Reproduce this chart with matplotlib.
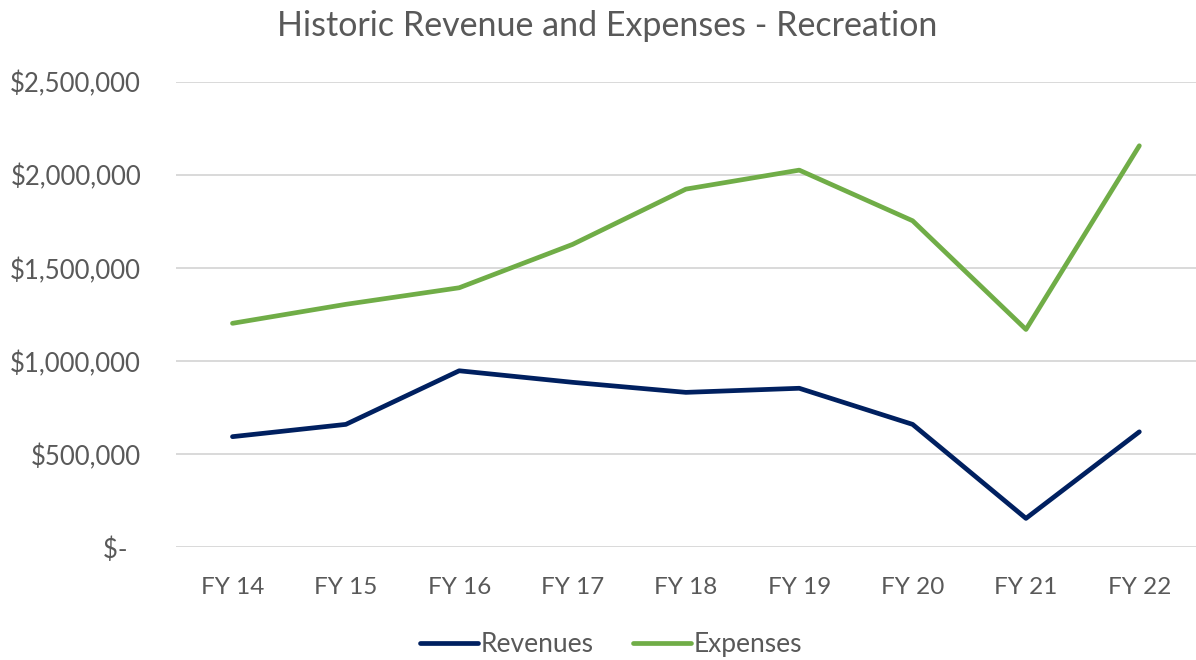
import matplotlib.pyplot as plt
from matplotlib.ticker import FuncFormatter

plt.rcParams["font.family"] = ["Lato", "DejaVu Sans"]

years = ["FY 14", "FY 15", "FY 16", "FY 17", "FY 18", "FY 19", "FY 20", "FY 21", "FY 22"]
revenues = [595000, 661000, 949000, 887000, 833000, 855000, 661000, 156000, 621000]
expenses = [1204000, 1306000, 1395000, 1628000, 1925000, 2027000, 1755000, 1171000, 2158000]

TEXT = "#595959"
GRID = "#d9d9d9"


def dollars(v, _pos):
    if v == 0:
        return "$-  "
    return f"${v:,.0f}"


fig = plt.figure(figsize=(11.96, 6.6), dpi=100)
ax = fig.add_axes([0.147, 0.1706, 0.853, 0.705])

x = range(len(years))
ax.plot(x, revenues, color="#002060", linewidth=3.4, solid_capstyle="round", label="Revenues")
ax.plot(x, expenses, color="#70ad47", linewidth=3.4, solid_capstyle="round", label="Expenses")

ax.set_xlim(-0.5, len(years) - 0.5)
ax.set_ylim(0, 2500000)
ax.set_yticks(range(0, 2500001, 500000))
ax.yaxis.set_major_formatter(FuncFormatter(dollars))
ax.set_xticks(list(x))
ax.set_xticklabels(years)

ax.grid(axis="y", color=GRID, linewidth=1.4)
ax.set_axisbelow(True)
for s in ax.spines.values():
    s.set_visible(False)
ax.tick_params(axis="both", length=0, labelcolor=TEXT)
ax.tick_params(axis="y", pad=25, labelsize=18.5)
ax.tick_params(axis="x", pad=21, labelsize=17.5)

fig.text(0.508, 0.96, "Historic Revenue and Expenses - Recreation",
         ha="center", va="center", fontsize=24.5, color=TEXT)

fig.legend(loc="center", bbox_to_anchor=(0.511, 0.023), ncol=2, frameon=False,
           fontsize=19, labelcolor=TEXT, handlelength=2.2, handletextpad=0.1,
           columnspacing=1.5)

fig.savefig("out.png", dpi=100, facecolor="white")
